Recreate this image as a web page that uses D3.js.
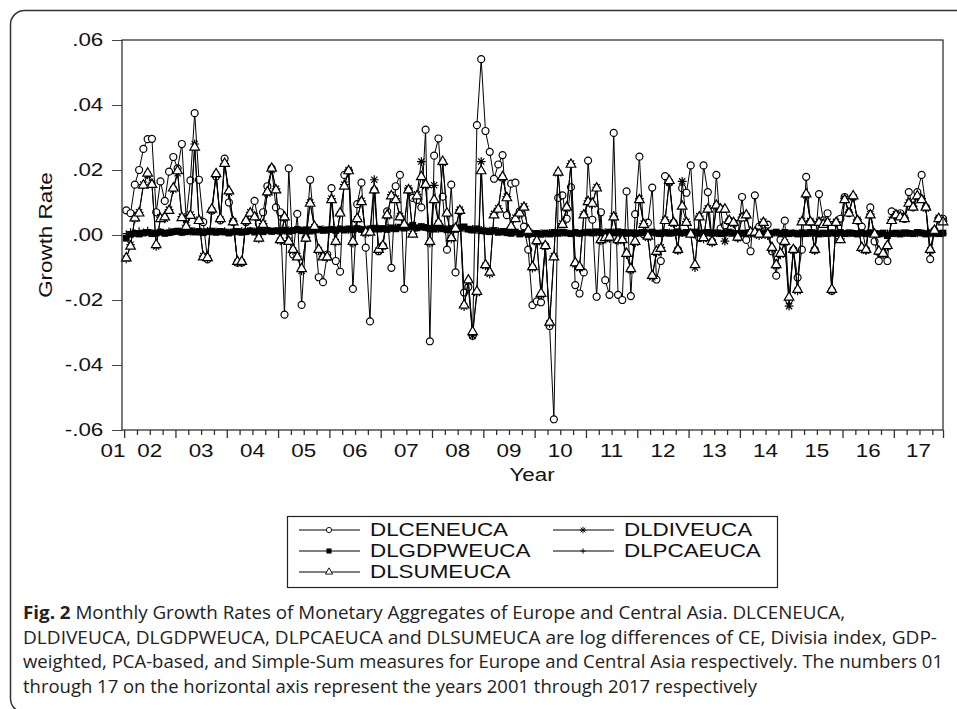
<!DOCTYPE html>
<html>
<head>
<meta charset="utf-8">
<script src="https://cdn.jsdelivr.net/npm/d3@7"></script>
<style>
    body { margin: 0; background: #fff; }
    svg { display: block; }
    .chart text { font-family: "Liberation Sans", Arial, Helvetica, sans-serif; font-size: 17.5px; fill: #111; }
    .caption { font-family: "Open Sans", "Noto Sans", sans-serif; font-size: 17.5px; fill: #222; }
</style>
</head>
<body>
<svg id="fig" width="957" height="709"></svg>
<script>

// year labels on the x axis (2001 .. 2017)
let yearLabels = ["01", "02", "03", "04", "05", "06", "07", "08", "09", "10", "11", "12", "13", "14", "15", "16", "17"];
let yTicks = [-0.06, -0.04, -0.02, 0, 0.02, 0.04, 0.06];

// monthly values, 2002M01 .. 2017M12 (2001M12 is lost to the log difference)
let dlcen = [
    .0076, .0067, .0155, .0200, .0265, .0295, .0296, .0070, .0165, .0105, .0195, .0240,
    .0205, .0280, .0050, .0168, .0375, .0170, .0040, -.0075, .0075, .0180, .0045, .0235,
    .0100, .0040, -.0085, -.0085, .0040, .0060, .0105, .0035, .0070, .0150, .0205, .0085,
    .0070, -.0245, .0205, -.0060, .0065, -.0215, -.0010, .0170, .0020, -.0130, -.0145, -.0060,
    .0144, -.0080, -.0113, .0185, .0197, -.0166, .0095, .0161, -.0039, -.0266, .0138, -.0050,
    -.0033, .0073, -.0101, .0150, .0185, -.0166, .0138, .0114, .0108, .0085, .0324, -.0327,
    .0244, .0297, .0118, -.0045, .0155, -.0115, .0073, -.0177, -.0160, -.0310, .0338, .0541,
    .0320, .0256, .0173, .0217, .0246, .0061, .0158, .0161, .0073, .0026, -.0045, -.0216,
    -.0204, -.0207, -.0033, -.0280, -.0567, .0114, .0122, .0050, .0147, -.0154, -.0180, -.0115,
    .0229, .0047, -.0190, .0070, -.0139, -.0184, .0314, -.0184, -.0200, .0134, -.0188, .0064,
    .0241, .0002, .0038, .0146, -.0137, -.0080, .0181, .0161, .0038, -.0045, .0144, .0130,
    .0214, .0002, -.0009, .0214, .0132, -.0020, .0185, .0020, .0030, .0044, .0038, -.0007,
    .0117, -.0015, -.0050, .0122, .0026, .0032, .0032, -.0050, -.0125, -.0015, .0044, -.0200,
    -.0045, -.0131, -.0045, .0179, .0040, -.0045, .0126, .0045, .0067, -.0172, .0038, .0050,
    .0117, .0067, .0117, .0044, .0026, -.0045, .0085, -.0020, -.0080, -.0057, -.0080, .0073,
    .0061, .0067, .0050, .0132, .0085, .0132, .0185, .0085, -.0074, .0014, .0050, .0050
];
let dldiv = [
    -.0073, -.0030, .0050, .0070, .0155, .0185, .0160, -.0035, .0055, .0050, .0078, .0140,
    .0190, .0057, .0030, .0063, .0280, .0047, -.0065, -.0072, .0075, .0185, .0048, .0220,
    .0130, .0043, -.0085, -.0085, .0040, .0070, .0058, -.0012, .0035, .0128, .0200, .0142,
    -.0018, .0052, -.0017, -.0048, -.0065, -.0110, -.0008, .0100, .0024, -.0048, -.0065, -.0070,
    .0112, -.0022, .0064, .0155, .0200, -.0025, .0048, .0105, .0005, .0010, .0170, -.0048,
    -.0036, .0058, .0124, .0112, .0058, .0030, .0144, .0004, .0125, .0226, .0150, -.0025,
    .0153, .0035, .0222, .0064, -.0012, .0023, .0078, -.0220, -.0145, -.0310, -.0178, .0226,
    -.0095, -.0120, .0065, .0082, .0175, .0118, .0022, .0053, .0064, .0088, .0010, -.0102,
    -.0022, -.0185, -.0036, -.0272, -.0065, .0190, .0035, .0082, .0220, -.0090, -.0102, .0064,
    .0105, .0094, .0147, -.0018, -.0012, -.0010, .0058, -.0018, -.0012, -.0060, -.0108, -.0024,
    .0112, .0035, -.0008, -.0130, -.0055, -.0038, .0047, .0162, .0035, -.0048, .0165, .0041,
    .0005, -.0100, .0058, -.0012, .0082, -.0024, .0088, .0082, -.0019, .0041, .0035, -.0010,
    .0055, .0058, .0005, .0011, -.0002, .0041, -.0002, -.0043, -.0095, -.0061, -.0023, -.0219,
    -.0048, -.0172, .0043, .0122, .0043, -.0048, .0041, .0035, .0041, -.0172, .0041, -.0012,
    .0112, .0070, .0116, .0047, -.0043, -.0048, .0064, .0005, -.0053, -.0060, -.0036, .0047,
    .0064, .0058, .0053, .0100, .0088, .0116, .0112, .0082, -.0048, .0011, .0053, .0043
];
let dlgdp = [
    -.0010, .0002, .0005, .0003, .0006, .0008, .0004, .0006, .0009, .0005, .0007, .0010,
    .0012, .0008, .0010, .0013, .0009, .0011, .0007, .0010, .0012, .0008, .0011, .0009,
    .0006, .0009, .0011, .0008, .0010, .0013, .0009, .0012, .0010, .0014, .0011, .0013,
    .0012, .0015, .0011, .0014, .0017, .0013, .0016, .0012, .0015, .0018, .0014, .0016,
    .0017, .0014, .0018, .0015, .0019, .0016, .0020, .0017, .0015, .0019, .0021, .0018,
    .0020, .0017, .0022, .0019, .0024, .0021, .0025, .0030, .0022, .0026, .0023, .0020,
    .0018, .0022, .0019, .0016, .0020, .0017, .0021, .0025, .0018, .0015, .0019, .0013,
    .0012, .0010, .0014, .0008, .0011, .0007, .0005, .0009, .0003, .0006, .0002, .0004,
    .0005, .0002, .0006, .0003, .0008, .0005, .0009, .0006, .0004, .0008, .0005, .0007,
    .0009, .0006, .0010, .0007, .0005, .0009, .0006, .0010, .0008, .0005, .0007, .0004,
    .0006, .0008, .0005, .0009, .0006, .0004, .0008, .0005, .0007, .0010, .0006, .0008,
    .0005, .0009, .0006, .0004, .0008, .0005, .0007, .0004, .0006, .0009, .0005, .0003,
    .0006, .0004, .0008, .0005, .0003, .0007, .0004, .0006, .0009, .0005, .0008, .0004,
    .0006, .0003, .0007, .0004, .0008, .0005, .0003, .0006, .0004, .0007, .0005, .0008,
    .0004, .0007, .0005, .0003, .0006, .0004, .0007, .0005, .0003, .0006, -.0002, .0004,
    .0006, .0003, .0007, .0005, .0004, .0008, .0006, .0003, .0007, .0005, .0004, .0006
];
let dlpca = [
    .0004, .0010, .0007, .0013, .0009, .0015, .0008, .0003, .0010, .0006, .0012, .0009,
    .0011, .0007, .0013, .0009, .0012, .0008, .0011, .0014, .0009, .0012, .0010, .0013,
    .0009, .0012, .0010, .0014, .0011, .0015, .0012, .0010, .0013, .0016, .0012, .0014,
    .0015, .0012, .0016, .0013, .0018, .0015, .0013, .0017, .0014, .0016, .0019, .0015,
    .0018, .0016, .0020, .0017, .0015, .0019, .0022, .0018, .0016, .0020, .0018, .0021,
    .0019, .0023, .0020, .0025, .0022, .0027, .0024, .0028, .0021, .0025, .0022, .0019,
    .0021, .0018, .0022, .0019, .0017, .0021, .0023, .0019, .0016, .0020, .0014, .0017,
    .0013, .0015, .0011, .0013, .0009, .0012, .0007, .0010, .0005, .0008, .0004, .0006,
    .0004, .0007, .0003, .0008, .0005, .0009, .0006, .0008, .0005, .0007, .0004, .0008,
    .0007, .0009, .0006, .0008, .0010, .0007, .0009, .0006, .0005, .0008, .0006, .0007,
    .0008, .0006, .0009, .0007, .0005, .0008, .0006, .0009, .0006, .0008, .0005, .0007,
    .0006, .0008, .0004, .0007, .0006, .0008, .0005, .0006, .0008, .0004, .0007, .0005,
    .0005, .0007, .0004, .0006, .0008, .0005, .0007, .0005, .0006, .0004, .0007, .0006,
    .0007, .0005, .0004, .0007, .0005, .0008, .0006, .0004, .0007, .0006, .0004, .0006,
    .0005, .0004, .0006, .0005, .0007, .0004, .0006, .0003, .0005, .0004, .0006, .0005,
    .0004, .0006, .0005, .0007, .0005, .0004, .0006, .0005, .0003, .0006, .0005, .0004
];
let dlsum = [
    -.0071, -.0035, .0052, .0067, .0153, .0190, .0155, -.0030, .0050, .0055, .0075, .0144,
    .0197, .0053, .0026, .0060, .0270, .0044, -.0068, -.0070, .0079, .0188, .0050, .0220,
    .0135, .0040, -.0082, -.0082, .0044, .0067, .0055, -.0010, .0032, .0132, .0205, .0138,
    -.0015, .0055, -.0020, -.0045, -.0068, -.0104, -.0010, .0097, .0026, -.0045, -.0068, -.0068,
    .0108, -.0020, .0067, .0150, .0197, -.0020, .0050, .0102, .0008, .0008, .0138, -.0045,
    -.0033, .0061, .0120, .0108, .0055, .0032, .0138, .0002, .0120, .0179, .0155, -.0020,
    .0108, .0038, .0226, .0067, -.0009, .0020, .0075, -.0216, -.0139, -.0298, -.0174, .0197,
    -.0092, -.0115, .0061, .0079, .0179, .0114, .0026, .0050, .0067, .0085, .0014, -.0098,
    -.0018, -.0180, -.0033, -.0269, -.0068, .0193, .0032, .0085, .0217, -.0086, -.0098, .0061,
    .0102, .0097, .0144, -.0015, -.0009, -.0007, .0055, -.0015, -.0015, -.0057, -.0104, -.0020,
    .0108, .0032, -.0004, -.0125, -.0051, -.0042, .0044, .0167, .0038, -.0045, .0088, .0038,
    .0002, -.0092, .0055, -.0009, .0079, -.0020, .0091, .0079, .0079, .0044, .0038, -.0007,
    .0052, .0061, .0008, .0008, .0002, .0038, .0002, -.0039, -.0092, -.0057, -.0020, -.0192,
    -.0045, -.0168, .0040, .0126, .0040, -.0045, .0038, .0032, .0038, -.0168, .0038, -.0015,
    .0108, .0067, .0120, .0044, -.0039, -.0045, .0061, .0002, -.0050, -.0057, -.0033, .0044,
    .0061, .0055, .0050, .0097, .0085, .0120, .0108, .0085, -.0045, .0014, .0050, .0040
];

let seriesNames = ["DLCENEUCA", "DLDIVEUCA", "DLGDPWEUCA", "DLPCAEUCA", "DLSUMEUCA"];
let seriesValues = [dlcen, dldiv, dlgdp, dlpca, dlsum];
let seriesMarkers = ["circle", "star", "square", "plus", "triangle"];

class GrowthChart {

    constructor(svgId) {
        this.svg = d3.select("#" + svgId);
        // slot 0 is 2001M12, data start at slot 1
        this.nSlots = dlcen.length;
        this.series = seriesNames.map((name, k) => ({
            name: name,
            marker: seriesMarkers[k],
            values: seriesValues[k].map((v, i) => ({slot: i + 1, value: v}))
        }));
        this.initVis();
    }

    initVis() {
        let vis = this;
        vis.stretch = "scale(1.28,1)";

        // page frame with rounded corner
        vis.svg.append("rect")
            .attr("x", 10.5).attr("y", 10.5)
            .attr("width", 990).attr("height", 702)
            .attr("rx", 14)
            .attr("fill", "none").attr("stroke", "#333").attr("stroke-width", 1.5);

        vis.g = vis.svg.append("g").attr("class", "chart");

        vis.x = d3.scaleLinear().domain([0, vis.nSlots]).range([122, 943]);
        vis.y = d3.scaleLinear().domain([-0.06, 0.06]).range([430, 40]);

        // y axis, EViews style labels (".02", "-.04")
        let yAxis = d3.axisLeft(vis.y)
            .tickValues(yTicks)
            .tickSize(10)
            .tickFormat(d => d3.format(".2f")(d).replace("\u2212", "-").replace("0.", "."));
        let yg = vis.g.append("g")
            .attr("transform", "translate(122,0)")
            .call(yAxis);
        yg.select(".domain").remove();
        yg.selectAll("line").attr("stroke", "#444");
        yg.selectAll("text")
            .attr("x", -14.6)
            .attr("transform", vis.stretch)
            .style("font-size", null);

        // x axis: quarterly ticks between observations, longer at January
        let quarterSlots = d3.range(1, vis.nSlots + 1).filter(i => (i - 1) % 3 === 0);
        let majorTicks = quarterSlots.filter(i => (i - 1) % 12 === 0).map(i => i - 0.5).concat([vis.nSlots]);
        let minorTicks = quarterSlots.filter(i => (i - 1) % 12 !== 0).map(i => i - 0.5);

        [[minorTicks, 5], [majorTicks, 8]].forEach(function(t) {
            let ax = d3.axisBottom(vis.x).tickValues(t[0]).tickSize(t[1]).tickFormat("");
            let xg = vis.g.append("g")
                .attr("transform", "translate(0,430)")
                .call(ax);
            xg.select(".domain").remove();
            xg.selectAll("line").attr("stroke", "#333").attr("stroke-width", 1.3);
        });

        // year labels centred on the visible part of each year
        let labelPos = yearLabels.map((lab, k) => {
            if (k === 0) return {lab: lab, pos: -2.1};
            let start = 1 + (k - 1) * 12 - 0.5;
            let end = Math.min(start + 12, vis.nSlots);
            return {lab: lab, pos: (start + end) / 2};
        });
        vis.g.selectAll(".year-label")
            .data(labelPos)
            .enter().append("text")
            .attr("class", "year-label")
            .attr("text-anchor", "middle")
            .attr("transform", d => `translate(${vis.x(d.pos)},457) ${vis.stretch}`)
            .text(d => d.lab);

        // axis titles
        vis.g.append("text")
            .attr("text-anchor", "middle")
            .attr("transform", `translate(532,481) ${vis.stretch}`)
            .text("Year");
        vis.g.append("text")
            .attr("text-anchor", "middle")
            .attr("transform", `translate(52,235) rotate(-90) ${vis.stretch}`)
            .text("Growth Rate");

        vis.plot = vis.g.append("g");

        vis.updateVis();
        vis.drawLegend();
        vis.drawCaption();
    }

    markerPath(type) {
        if (type === "star") {
            let r = 4.4, s = r * 0.7071;
            return `M${-r},0L${r},0M0,${-r}L0,${r}M${-s},${-s}L${s},${s}M${-s},${s}L${s},${-s}`;
        }
        if (type === "plus") return "M-3.5,0L3.5,0M0,-3.5L0,3.5";
        if (type === "square") return d3.symbol(d3.symbolSquare, 46)();
        if (type === "triangle") return d3.symbol(d3.symbolTriangle, 40)();
        return d3.symbol(d3.symbolCircle, 38)();
    }

    styleMarker(sel, type) {
        if (type === "square") {
            sel.attr("fill", "#000").attr("stroke", "none");
        } else if (type === "star" || type === "plus") {
            sel.attr("fill", "none").attr("stroke", "#000").attr("stroke-width", 1.2);
        } else {
            sel.attr("fill", "#fff").attr("stroke", "#000").attr("stroke-width", 1.2);
        }
    }

    updateVis() {
        let vis = this;
        let line = d3.line()
            .x(d => vis.x(d.slot))
            .y(d => vis.y(d.value));

        vis.series.forEach(function(s) {
            let sg = vis.plot.append("g").attr("class", "series");
            sg.append("path")
                .datum(s.values)
                .attr("d", line)
                .attr("fill", "none")
                .attr("stroke", "#000")
                .attr("stroke-width", s.marker === "square" ? 2 : 1);

            let pts = sg.selectAll(".pt")
                .data(s.values)
                .enter().append("path")
                .attr("class", "pt")
                .attr("d", vis.markerPath(s.marker))
                .attr("transform", d => `translate(${vis.x(d.slot)},${vis.y(d.value)})`);
            vis.styleMarker(pts, s.marker);
        });

        // plot frame
        vis.g.append("rect")
            .attr("x", 122).attr("y", 40)
            .attr("width", 821).attr("height", 390)
            .attr("fill", "none").attr("stroke", "#222").attr("stroke-width", 1.2);
    }

    drawLegend() {
        let vis = this;
        let lg = vis.g.append("g");
        lg.append("rect")
            .attr("x", 287.5).attr("y", 516.5)
            .attr("width", 490).attr("height", 71)
            .attr("fill", "none").attr("stroke", "#222").attr("stroke-width", 1.2);

        // EViews style: two columns, filled row by row
        let slots = [[299, 530], [553, 530], [299, 551], [553, 551], [299, 572]];
        vis.series.forEach(function(s, k) {
            let p = slots[k];
            let item = lg.append("g").attr("transform", `translate(${p[0]},${p[1]})`);
            item.append("line")
                .attr("x1", 0).attr("x2", 61)
                .attr("stroke", "#000").attr("stroke-width", 1);
            let m = item.append("path")
                .attr("d", vis.markerPath(s.marker))
                .attr("transform", "translate(30,0) scale(0.75)");
            vis.styleMarker(m, s.marker);
            item.append("text")
                .attr("transform", `translate(71,6) ${vis.stretch}`)
                .text(s.name);
        });
    }

    drawCaption() {
        let vis = this;
        let lines = [
            ["Monthly Growth Rates of Monetary Aggregates of Europe and Central Asia. DLCENEUCA,", 822],
            ["DLDIVEUCA, DLGDPWEUCA, DLPCAEUCA and DLSUMEUCA are log differences of CE, Divisia index, GDP-", 914],
            ["weighted, PCA-based, and Simple-Sum measures for Europe and Central Asia respectively. The numbers 01", 920],
            ["through 17 on the horizontal axis represent the years 2001 through 2017 respectively", 734]
        ];
        lines.forEach(function(l, k) {
            let t = vis.svg.append("text")
                .attr("class", "caption")
                .attr("x", 23)
                .attr("y", 619 + k * 24.7)
                .attr("textLength", l[1])
                .attr("lengthAdjust", "spacingAndGlyphs");
            if (k === 0) {
                t.append("tspan").attr("font-weight", "bold").text("Fig. 2 ");
            }
            t.append("tspan").text(l[0]);
        });
    }
}

new GrowthChart("fig");

</script>
</body>
</html>
